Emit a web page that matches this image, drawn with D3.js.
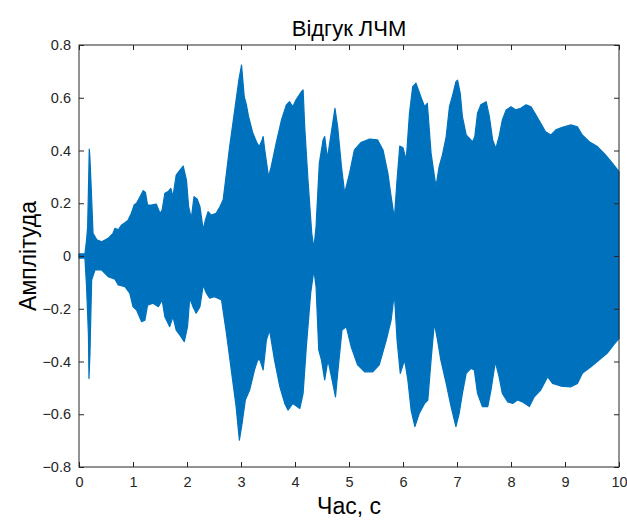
<!DOCTYPE html>
<html>
<head>
<meta charset="utf-8">
<script src="https://cdn.jsdelivr.net/npm/d3@7"></script>
<style>
  body { margin: 0; background: #fff; }
  text { font-family: "Liberation Sans", Arial, sans-serif; }
</style>
</head>
<body>
<svg id="chart"></svg>
<script>
// upper envelope of the response (time, amplitude)
const topT = [0, 0.11, 0.14, 0.16, 0.18, 0.19, 0.2, 0.22, 0.26, 0.33, 0.42, 0.54, 0.63, 0.666, 0.727, 0.79, 0.85, 0.91, 0.97, 1.02,
  1.066, 1.13, 1.19, 1.23, 1.27, 1.34, 1.43, 1.5, 1.54, 1.59, 1.65, 1.7, 1.74, 1.8, 1.87, 1.93, 1.99, 2.03, 2.08, 2.13,
  2.19, 2.24, 2.3, 2.34, 2.39, 2.45, 2.54, 2.61, 2.67, 2.73, 2.79, 2.85, 2.91, 2.96, 3.01, 3.06, 3.1, 3.14, 3.22, 3.3,
  3.34, 3.39, 3.41, 3.44, 3.51, 3.56, 3.65, 3.75, 3.84, 3.9, 3.96, 4.02, 4.12, 4.15, 4.18, 4.24, 4.31, 4.35, 4.39, 4.45,
  4.52, 4.55, 4.6, 4.67, 4.74, 4.79, 4.86, 4.92, 5.01, 5.1, 5.22, 5.38, 5.53, 5.63, 5.72, 5.78, 5.84, 5.89, 5.94, 6.0,
  6.06, 6.12, 6.18, 6.24, 6.33, 6.4, 6.45, 6.52, 6.61, 6.67, 6.73, 6.8, 6.86, 6.92, 6.98, 7.01, 7.06, 7.1, 7.17, 7.23,
  7.29, 7.33, 7.38, 7.44, 7.54, 7.6, 7.66, 7.72, 7.78, 7.84, 7.91, 8.0, 8.09, 8.18, 8.28, 8.37, 8.46, 8.55, 8.64, 8.74,
  8.83, 8.95, 9.11, 9.23, 9.32, 9.45, 9.6, 9.75, 9.88, 10];
const topV = [0.008, 0.008, 0.06, 0.111, 0.3, 0.405, 0.38, 0.288, 0.086, 0.061, 0.054, 0.067, 0.086, 0.105, 0.099, 0.118, 0.126, 0.136, 0.162, 0.193,
  0.2, 0.225, 0.248, 0.241, 0.193, 0.193, 0.197, 0.162, 0.174, 0.238, 0.244, 0.256, 0.225, 0.307, 0.326, 0.341, 0.288, 0.187, 0.143, 0.225,
  0.215, 0.187, 0.099, 0.136, 0.168, 0.155, 0.162, 0.187, 0.213, 0.313, 0.415, 0.503, 0.592, 0.667, 0.724, 0.604, 0.573, 0.528, 0.465, 0.427,
  0.415, 0.44, 0.453, 0.402, 0.3, 0.339, 0.427, 0.516, 0.573, 0.585, 0.566, 0.592, 0.623, 0.63, 0.49, 0.288, 0.086, 0.029, 0.111, 0.351,
  0.44, 0.453, 0.37, 0.465, 0.56, 0.49, 0.339, 0.238, 0.313, 0.402, 0.43, 0.443, 0.44, 0.402, 0.313, 0.225, 0.143, 0.288, 0.417, 0.41,
  0.364, 0.541, 0.642, 0.655, 0.604, 0.566, 0.579, 0.389, 0.263, 0.339, 0.383, 0.453, 0.566, 0.61, 0.661, 0.667, 0.617, 0.528, 0.459, 0.446,
  0.433, 0.453, 0.541, 0.573, 0.585, 0.528, 0.44, 0.408, 0.453, 0.516, 0.554, 0.566, 0.554, 0.56, 0.573, 0.566, 0.535, 0.503, 0.471, 0.459,
  0.478, 0.488, 0.497, 0.49, 0.459, 0.433, 0.415, 0.383, 0.351, 0.32];

// lower envelope of the response (time, amplitude)
const botT = [0, 0.11, 0.14, 0.175, 0.185, 0.203, 0.234, 0.296, 0.42, 0.54, 0.666, 0.727, 0.85, 0.94, 1.0, 1.066, 1.16, 1.22, 1.27, 1.37,
  1.47, 1.54, 1.59, 1.68, 1.74, 1.8, 1.87, 1.95, 2.01, 2.05, 2.11, 2.17, 2.24, 2.3, 2.36, 2.42, 2.51, 2.64, 2.73, 2.82,
  2.91, 2.97, 3.02, 3.08, 3.16, 3.25, 3.31, 3.35, 3.41, 3.47, 3.53, 3.62, 3.72, 3.81, 3.87, 3.96, 4.09, 4.15, 4.21, 4.29,
  4.35, 4.39, 4.44, 4.49, 4.55, 4.61, 4.7, 4.75, 4.79, 4.87, 4.95, 5.04, 5.16, 5.29, 5.44, 5.56, 5.69, 5.78, 5.84, 5.89,
  5.95, 6.03, 6.09, 6.15, 6.22, 6.3, 6.4, 6.46, 6.52, 6.58, 6.64, 6.7, 6.8, 6.89, 6.98, 7.04, 7.1, 7.17, 7.26, 7.32,
  7.38, 7.47, 7.57, 7.63, 7.71, 7.78, 7.84, 7.94, 8.03, 8.12, 8.21, 8.34, 8.43, 8.55, 8.68, 8.77, 8.92, 9.11, 9.23, 9.32,
  9.48, 9.63, 9.78, 9.9, 10];
const botV = [-0.008, -0.008, -0.116, -0.3, -0.464, -0.37, -0.091, -0.053, -0.053, -0.078, -0.088, -0.11, -0.116, -0.141, -0.192, -0.205, -0.249, -0.243, -0.186, -0.179,
  -0.192, -0.167, -0.23, -0.268, -0.23, -0.281, -0.3, -0.325, -0.268, -0.16, -0.192, -0.217, -0.192, -0.11, -0.141, -0.16, -0.154, -0.167, -0.293, -0.432,
  -0.571, -0.698, -0.635, -0.546, -0.508, -0.432, -0.394, -0.394, -0.432, -0.319, -0.281, -0.394, -0.496, -0.559, -0.584, -0.559, -0.578, -0.521, -0.344, -0.141,
  -0.053, -0.116, -0.357, -0.394, -0.47, -0.394, -0.483, -0.534, -0.445, -0.281, -0.268, -0.344, -0.413, -0.439, -0.439, -0.413, -0.319, -0.243, -0.141, -0.319,
  -0.445, -0.394, -0.47, -0.584, -0.647, -0.597, -0.559, -0.546, -0.394, -0.255, -0.319, -0.394, -0.483, -0.571, -0.647, -0.597, -0.521, -0.445, -0.426, -0.432,
  -0.521, -0.571, -0.571, -0.508, -0.401, -0.458, -0.521, -0.553, -0.559, -0.546, -0.553, -0.571, -0.534, -0.508, -0.458, -0.483, -0.493, -0.496, -0.483, -0.445,
  -0.42, -0.394, -0.369, -0.337, -0.312];

const xTicks = d3.range(0, 11, 1);
const yTicks = [-0.8, -0.6, -0.4, -0.2, 0, 0.2, 0.4, 0.6, 0.8];

const W = 627, H = 523;
const margin = { top: 45, right: 8, bottom: 56, left: 79 };
const width = W - margin.left - margin.right;
const height = H - margin.top - margin.bottom;
const axisColor = "#262626";
const lineColor = "#0072BD";

const svg = d3.select("#chart").attr("width", W).attr("height", H);
const g = svg.append("g").attr("transform", `translate(${margin.left},${margin.top})`);

const x = d3.scaleLinear().domain([0, 10]).range([0, width]);
const y = d3.scaleLinear().domain([-0.8, 0.8]).range([height, 0]);

// envelope polygon: top forwards, bottom backwards
const topPts = topT.map((t, i) => [t, topV[i]]);
const botPts = botT.map((t, i) => [t, botV[i]]).reverse();
const env = d3.line().x(d => x(d[0])).y(d => y(d[1]));

g.append("path")
    .attr("d", env(topPts.concat(botPts)) + "Z")
    .attr("fill", lineColor)
    .attr("stroke", lineColor)
    .attr("stroke-width", 1.2)
    .attr("stroke-linejoin", "round");

// axes, ticks inwards, box around
const tickLen = 5;
g.append("g")
    .attr("transform", `translate(0,${height})`)
    .call(d3.axisBottom(x).tickValues(xTicks).tickSize(-tickLen).tickPadding(10).tickFormat(d3.format("d")))
    .call(a => a.select(".domain").remove());
g.append("g")
    .call(d3.axisTop(x).tickValues(xTicks).tickSize(-tickLen).tickFormat(""))
    .call(a => a.select(".domain").remove());
g.append("g")
    .call(d3.axisLeft(y).tickValues(yTicks).tickSize(-tickLen).tickPadding(8).tickFormat(d => d === 0 ? "0" : d3.format(".1f")(d)))
    .call(a => a.select(".domain").remove());
g.append("g")
    .attr("transform", `translate(${width},0)`)
    .call(d3.axisRight(y).tickValues(yTicks).tickSize(-tickLen).tickFormat(""))
    .call(a => a.select(".domain").remove());

g.selectAll(".tick line").attr("stroke", axisColor);
g.selectAll(".tick text")
    .attr("fill", axisColor)
    .style("font-size", "14.5px")
    .style("font-family", "'Liberation Sans', Arial, sans-serif");

g.append("rect")
    .attr("x", 0).attr("y", 0)
    .attr("width", width).attr("height", height)
    .attr("fill", "none")
    .attr("stroke", axisColor)
    .attr("stroke-width", 1);

// labels
svg.append("text")
    .attr("x", margin.left + width / 2)
    .attr("y", 36)
    .attr("text-anchor", "middle")
    .style("font-size", "22px")
    .attr("fill", "#000")
    .text("Відгук ЛЧМ");

svg.append("text")
    .attr("x", margin.left + width / 2)
    .attr("y", 514)
    .attr("text-anchor", "middle")
    .style("font-size", "23px")
    .attr("fill", "#000")
    .text("Час, с");

svg.append("text")
    .attr("transform", `translate(36,${margin.top + height / 2}) rotate(-90)`)
    .attr("text-anchor", "middle")
    .style("font-size", "23px")
    .attr("fill", "#000")
    .text("Амплітуда");
</script>
</body>
</html>
